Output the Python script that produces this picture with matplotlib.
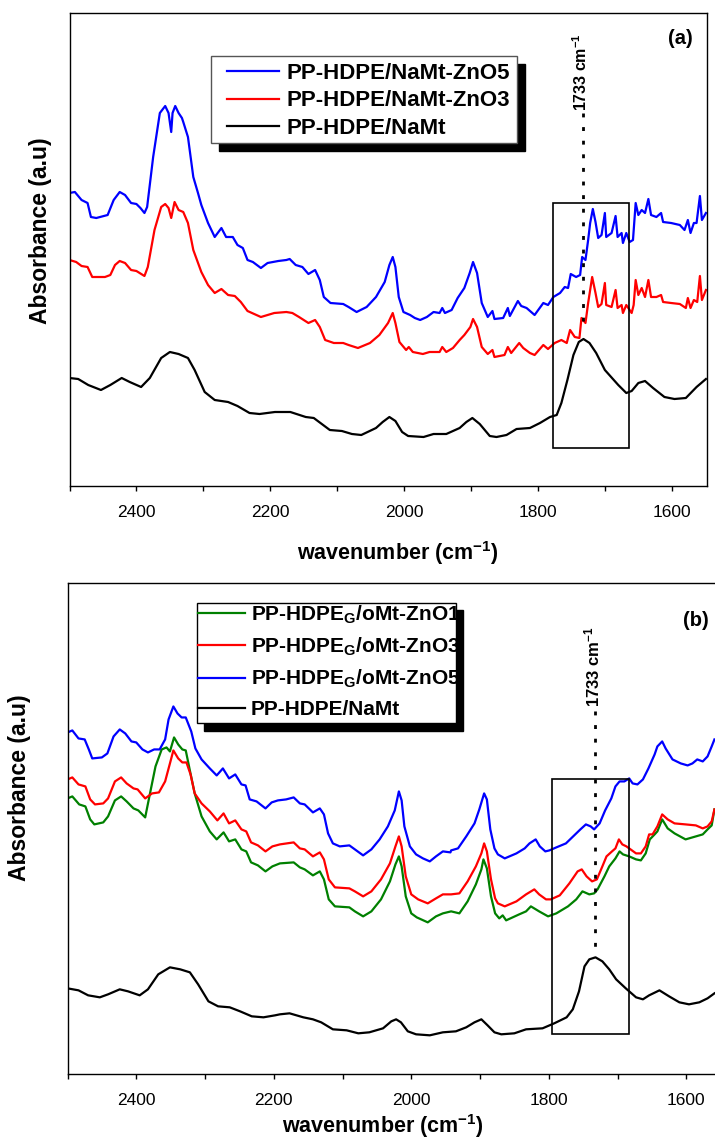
import matplotlib
matplotlib.use('Agg')
import matplotlib.pyplot as plt
import numpy as np
from matplotlib.patches import Rectangle
from matplotlib.ticker import MultipleLocator

plt.rcParams['font.family'] = 'Liberation Sans'
plt.rcParams['mathtext.fontset'] = 'custom'
plt.rcParams['mathtext.rm'] = 'Liberation Sans'
plt.rcParams['mathtext.bf'] = 'Liberation Sans:bold'
plt.rcParams['mathtext.it'] = 'Liberation Sans:italic'

# ---- panel (a): (wavenumber, absorbance a.u.) ----
a_znO5 = [(2500,2.94),(2492,2.95),(2482,2.87),(2473,2.84),(2468,2.70),(2460,2.69),(2443,2.72),(2434,2.87),(2425,2.95),
          (2417,2.92),(2408,2.84),(2400,2.83),(2394,2.79),(2388,2.74),(2384,2.80),(2375,3.30),(2365,3.74),(2357,3.81),
          (2352,3.74),(2348,3.55),(2346,3.74),(2342,3.81),(2337,3.74),(2332,3.69),(2330,3.65),(2323,3.50),(2315,3.10),
          (2308,2.94),(2303,2.82),(2293,2.64),(2283,2.50),(2273,2.59),(2266,2.50),(2256,2.50),(2249,2.42),(2241,2.39),
          (2234,2.27),(2226,2.25),(2214,2.19),(2204,2.24),(2188,2.26),(2176,2.27),(2171,2.28),(2162,2.22),(2152,2.20),
          (2143,2.13),(2133,2.17),(2126,2.07),(2120,1.90),(2110,1.84),(2091,1.83),(2083,1.80),(2071,1.75),(2056,1.80),
          (2042,1.90),(2029,2.05),(2022,2.22),(2017,2.30),(2013,2.20),(2008,1.90),(2001,1.75),(1991,1.72),(1984,1.69),
          (1976,1.67),(1966,1.70),(1956,1.75),(1947,1.74),(1943,1.79),(1939,1.74),(1929,1.77),(1920,1.89),(1910,1.99),
          (1902,2.14),(1897,2.25),(1891,2.14),(1884,1.84),(1875,1.70),(1868,1.76),(1865,1.68),(1852,1.69),(1845,1.79),
          (1842,1.71),(1830,1.86),(1825,1.81),(1817,1.79),(1805,1.72),(1792,1.84),(1785,1.82),(1777,1.90),(1767,1.94),
          (1760,2.00),(1755,1.99),(1751,2.13),(1743,2.10),(1737,2.12),(1734,2.30),(1729,2.27),(1725,2.47),(1722,2.64),
          (1718,2.78),(1714,2.65),(1710,2.49),(1705,2.52),(1700,2.74),(1698,2.50),(1690,2.54),(1684,2.71),(1681,2.50),
          (1675,2.54),(1673,2.44),(1668,2.54),(1663,2.45),(1658,2.47),(1654,2.84),(1650,2.72),(1645,2.77),(1640,2.74),
          (1635,2.88),(1631,2.72),(1623,2.70),(1616,2.74),(1613,2.65),(1601,2.64),(1588,2.62),(1581,2.57),(1576,2.67),
          (1572,2.54),(1567,2.64),(1563,2.64),(1558,2.91),(1555,2.67),(1549,2.74)]
a_znO3 = [(2500,2.27),(2490,2.25),(2482,2.21),(2473,2.20),(2466,2.10),(2447,2.10),(2439,2.12),(2432,2.22),(2425,2.26),
          (2417,2.24),(2408,2.17),(2400,2.16),(2388,2.11),(2383,2.20),(2373,2.57),(2363,2.80),(2357,2.83),(2352,2.79),
          (2348,2.69),(2343,2.85),(2337,2.77),(2330,2.75),(2323,2.64),(2315,2.37),(2303,2.15),(2293,2.02),(2283,1.94),
          (2273,1.98),(2263,1.92),(2253,1.91),(2244,1.85),(2234,1.76),(2214,1.70),(2194,1.74),(2176,1.75),(2167,1.74),
          (2157,1.70),(2143,1.64),(2133,1.67),(2126,1.60),(2118,1.47),(2105,1.44),(2091,1.44),(2083,1.42),(2069,1.39),
          (2051,1.44),(2037,1.52),(2024,1.64),(2017,1.74),(2013,1.64),(2007,1.45),(1997,1.37),(1993,1.40),(1987,1.35),
          (1972,1.33),(1962,1.35),(1947,1.35),(1943,1.40),(1937,1.35),(1927,1.39),(1917,1.47),(1910,1.52),(1901,1.60),
          (1897,1.68),(1891,1.60),(1884,1.40),(1875,1.33),(1868,1.37),(1865,1.30),(1850,1.32),(1845,1.40),(1840,1.34),
          (1828,1.44),(1822,1.39),(1812,1.34),(1805,1.32),(1792,1.42),(1785,1.38),(1775,1.44),(1765,1.47),(1757,1.44),
          (1752,1.57),(1745,1.50),(1738,1.49),(1735,1.69),(1729,1.64),(1725,1.84),(1722,1.97),(1719,2.10),(1714,1.94),
          (1710,1.80),(1705,1.83),(1700,2.04),(1698,1.82),(1690,1.80),(1684,1.97),(1681,1.79),(1675,1.82),(1673,1.74),
          (1668,1.82),(1660,1.74),(1657,1.82),(1654,2.07),(1650,1.92),(1645,1.99),(1640,1.90),(1635,2.07),(1631,1.90),
          (1623,1.90),(1616,1.92),(1613,1.85),(1601,1.84),(1588,1.83),(1579,1.79),(1576,1.89),(1572,1.79),(1567,1.87),
          (1562,1.85),(1558,2.11),(1555,1.87),(1549,1.97)]
a_namt = [(2500,1.09),(2487,1.08),(2472,1.02),(2453,0.97),(2439,1.02),(2422,1.09),(2410,1.05),(2393,1.00),(2380,1.09),
          (2363,1.29),(2350,1.35),(2337,1.33),(2323,1.29),(2313,1.17),(2298,0.95),(2283,0.87),(2263,0.85),(2249,0.81),
          (2231,0.74),(2216,0.73),(2193,0.75),(2170,0.75),(2147,0.70),(2135,0.69),(2123,0.63),(2111,0.57),(2093,0.56),
          (2078,0.53),(2064,0.52),(2042,0.59),(2032,0.65),(2022,0.70),(2013,0.66),(2003,0.55),(1994,0.51),(1971,0.50),
          (1956,0.53),(1937,0.53),(1917,0.59),(1907,0.65),(1898,0.69),(1887,0.63),(1872,0.51),(1862,0.50),(1847,0.52),
          (1832,0.58),(1812,0.59),(1797,0.64),(1782,0.70),(1772,0.72),(1765,0.84),(1756,1.07),(1747,1.32),(1739,1.45),
          (1732,1.48),(1723,1.44),(1713,1.34),(1700,1.17),(1688,1.08),(1680,1.02),(1668,0.94),(1660,0.96),(1650,1.04),
          (1640,1.06),(1628,0.99),(1611,0.90),(1596,0.88),(1579,0.89),(1563,1.00),(1549,1.08)]
a_labels = ['PP-HDPE/NaMt-ZnO5', 'PP-HDPE/NaMt-ZnO3', 'PP-HDPE/NaMt']

# ---- panel (b) ----
b_znO1 = [(2500,2.76),(2493,2.78),(2483,2.70),(2474,2.68),(2467,2.55),(2461,2.50),(2448,2.52),(2441,2.58),(2431,2.74),
          (2422,2.78),(2414,2.73),(2404,2.66),(2397,2.64),(2387,2.57),(2380,2.81),(2372,3.08),(2363,3.25),(2356,3.27),
          (2351,3.23),(2345,3.37),(2339,3.30),(2333,3.25),(2328,3.24),(2322,3.04),(2315,2.81),(2305,2.58),(2293,2.43),
          (2283,2.35),(2273,2.42),(2265,2.33),(2256,2.35),(2247,2.25),(2240,2.23),(2233,2.12),(2223,2.09),(2212,2.03),
          (2202,2.08),(2191,2.11),(2171,2.12),(2162,2.07),(2155,2.05),(2143,1.99),(2133,2.03),(2127,1.95),(2120,1.75),
          (2111,1.68),(2090,1.67),(2082,1.63),(2070,1.58),(2058,1.63),(2044,1.75),(2031,1.93),(2023,2.10),(2018,2.18),
          (2014,2.08),(2008,1.78),(2000,1.61),(1992,1.57),(1976,1.52),(1964,1.58),(1954,1.61),(1942,1.63),(1930,1.61),
          (1918,1.73),(1906,1.90),(1898,2.05),(1895,2.15),(1890,2.06),(1884,1.78),(1878,1.61),(1872,1.56),(1867,1.59),
          (1862,1.54),(1843,1.60),(1833,1.63),(1826,1.68),(1814,1.63),(1801,1.58),(1789,1.61),(1772,1.68),(1760,1.75),
          (1751,1.83),(1741,1.80),(1734,1.81),(1729,1.85),(1719,1.98),(1712,2.08),(1703,2.16),(1697,2.23),(1692,2.20),
          (1683,2.18),(1673,2.15),(1666,2.14),(1659,2.21),(1653,2.35),(1646,2.40),(1642,2.43),(1635,2.55),(1627,2.46),
          (1617,2.41),(1601,2.35),(1586,2.38),(1576,2.40),(1569,2.45),(1563,2.49),(1559,2.65)]
b_znO3 = [(2500,2.95),(2493,2.97),(2484,2.90),(2474,2.88),(2467,2.75),(2460,2.70),(2448,2.71),(2441,2.76),(2431,2.93),
          (2422,2.97),(2414,2.91),(2404,2.86),(2398,2.85),(2387,2.76),(2377,2.81),(2367,2.82),(2358,2.93),(2351,3.11),
          (2346,3.24),(2339,3.16),(2333,3.12),(2327,3.12),(2321,3.00),(2315,2.81),(2305,2.71),(2293,2.63),(2282,2.54),
          (2273,2.61),(2265,2.51),(2256,2.54),(2247,2.45),(2240,2.43),(2233,2.32),(2223,2.29),(2212,2.23),(2202,2.28),
          (2191,2.30),(2171,2.32),(2162,2.26),(2155,2.25),(2143,2.18),(2133,2.22),(2127,2.15),(2120,1.95),(2111,1.87),
          (2090,1.86),(2082,1.83),(2070,1.78),(2058,1.83),(2044,1.95),(2031,2.11),(2023,2.28),(2018,2.38),(2014,2.28),
          (2008,1.98),(2000,1.80),(1990,1.75),(1976,1.71),(1964,1.76),(1954,1.80),(1942,1.80),(1930,1.81),(1918,1.93),
          (1906,2.08),(1898,2.21),(1894,2.31),(1890,2.23),(1884,1.95),(1878,1.76),(1874,1.71),(1864,1.68),(1847,1.73),
          (1833,1.80),(1821,1.85),(1814,1.80),(1804,1.75),(1797,1.75),(1784,1.79),(1770,1.91),(1758,2.03),(1752,2.05),
          (1745,1.98),(1737,1.93),(1730,1.95),(1722,2.08),(1716,2.18),(1708,2.23),(1703,2.26),(1698,2.35),(1693,2.30),
          (1687,2.28),(1679,2.24),(1673,2.21),(1666,2.21),(1659,2.28),(1654,2.40),(1649,2.40),(1642,2.48),(1635,2.60),
          (1627,2.55),(1617,2.51),(1601,2.50),(1586,2.49),(1576,2.46),(1569,2.48),(1563,2.53),(1559,2.65)]
b_znO5 = [(2500,3.42),(2493,3.44),(2484,3.36),(2475,3.35),(2469,3.25),(2464,3.16),(2450,3.17),(2442,3.21),(2433,3.38),
          (2424,3.45),(2416,3.41),(2407,3.33),(2400,3.32),(2391,3.25),(2383,3.22),(2374,3.25),(2366,3.25),(2358,3.35),
          (2353,3.55),(2346,3.68),(2340,3.61),(2334,3.57),(2328,3.57),(2320,3.43),(2314,3.26),(2305,3.15),(2293,3.06),
          (2283,2.99),(2274,3.06),(2265,2.96),(2256,3.00),(2247,2.90),(2241,2.89),(2235,2.75),(2225,2.73),(2212,2.66),
          (2203,2.72),(2194,2.74),(2182,2.75),(2171,2.77),(2162,2.71),(2155,2.70),(2143,2.62),(2133,2.66),(2127,2.60),
          (2121,2.41),(2114,2.31),(2104,2.28),(2090,2.29),(2082,2.25),(2070,2.19),(2058,2.25),(2046,2.35),(2034,2.48),
          (2024,2.64),(2018,2.83),(2014,2.74),(2010,2.48),(2002,2.28),(1993,2.20),(1983,2.16),(1973,2.13),(1964,2.18),
          (1954,2.23),(1943,2.22),(1942,2.24),(1932,2.26),(1920,2.38),(1908,2.51),(1901,2.65),(1894,2.81),(1890,2.75),
          (1885,2.45),(1879,2.26),(1874,2.20),(1864,2.16),(1847,2.21),(1835,2.26),(1828,2.31),(1819,2.35),(1813,2.28),
          (1805,2.23),(1799,2.24),(1789,2.27),(1775,2.31),(1763,2.39),(1754,2.45),(1746,2.50),(1739,2.48),(1734,2.45),
          (1726,2.51),(1718,2.64),(1709,2.76),(1703,2.88),(1697,2.93),(1690,2.93),(1683,2.96),(1678,2.91),(1671,2.90),
          (1663,2.95),(1655,3.06),(1646,3.20),(1642,3.28),(1635,3.33),(1630,3.26),(1620,3.15),(1608,3.11),(1598,3.09),
          (1591,3.11),(1584,3.15),(1576,3.13),(1569,3.18),(1563,3.28),(1559,3.35)]
b_namt = [(2500,0.86),(2484,0.84),(2470,0.79),(2453,0.77),(2441,0.80),(2424,0.85),(2412,0.83),(2395,0.79),(2383,0.85),
          (2368,1.00),(2351,1.07),(2336,1.05),(2322,1.02),(2310,0.90),(2295,0.73),(2281,0.68),(2264,0.67),(2249,0.63),
          (2232,0.58),(2215,0.57),(2198,0.59),(2191,0.60),(2177,0.61),(2157,0.57),(2143,0.55),(2131,0.52),(2114,0.45),
          (2094,0.44),(2077,0.41),(2061,0.42),(2041,0.46),(2029,0.53),(2022,0.55),(2015,0.52),(2005,0.43),(1993,0.40),
          (1973,0.39),(1954,0.42),(1935,0.43),(1920,0.47),(1908,0.52),(1898,0.55),(1889,0.49),(1879,0.42),(1869,0.40),
          (1850,0.41),(1833,0.45),(1809,0.46),(1792,0.51),(1774,0.57),(1765,0.65),(1756,0.83),(1748,1.08),(1741,1.15),
          (1732,1.17),(1722,1.13),(1712,1.05),(1702,0.95),(1688,0.86),(1673,0.77),(1663,0.75),(1654,0.79),(1639,0.84),
          (1625,0.78),(1610,0.72),(1596,0.70),(1581,0.72),(1569,0.76),(1559,0.81)]
b_labels = [r'PP-HDPE$_\mathbf{G}$/oMt-ZnO1', r'PP-HDPE$_\mathbf{G}$/oMt-ZnO3',
            r'PP-HDPE$_\mathbf{G}$/oMt-ZnO5', 'PP-HDPE/NaMt']

# carbonyl band marker and highlight boxes (wavenumber range, absorbance range)
peak_wn = 1733
a_box = (1777, 1664, 0.39, 2.84)
b_box = (1796, 1683, 0.40, 2.95)

fig = plt.figure(figsize=(7.15, 11.38), dpi=100)
W, H = 715.0, 1138.0

def px_axes(l, t, r, b):
    return fig.add_axes([l / W, 1 - b / H, (r - l) / W, (b - t) / H])

def style(ax, ylim):
    ax.set_xlim(2500, 1548)
    ax.set_ylim(*ylim)
    ax.set_yticks([])
    ax.xaxis.set_major_locator(MultipleLocator(200))
    ax.xaxis.set_minor_locator(MultipleLocator(100))
    ax.tick_params(axis='x', which='both', direction='out', length=3.8, width=1.0,
                   labelsize=12.5, pad=10)
    for s in ax.spines.values():
        s.set_linewidth(1.0)

def box(ax, b):
    ax.add_patch(Rectangle((b[0], b[2]), b[1] - b[0], b[3] - b[2], fill=False,
                           edgecolor='k', lw=1.2, zorder=3))

def legend_frame(ax, leg, hx, ty, frame, sdx, sdy, ec):
    # move legend so first handle starts at hx and first label is centred on ty (px from top)
    fig.canvas.draw()
    h0 = leg.get_lines()[0].get_window_extent()
    t0 = leg.get_texts()[0].get_window_extent()
    dx = hx - h0.x0
    dy = (H - ty) - 0.5 * (t0.y0 + t0.y1)
    bb = leg.get_bbox_to_anchor().transformed(ax.transAxes.inverted())
    sx = dx / (ax.bbox.width)
    sy = dy / (ax.bbox.height)
    leg.set_bbox_to_anchor((bb.x0 + sx, bb.y1 + sy), transform=ax.transAxes)
    inv = ax.transAxes.inverted()
    l, t, r, b = frame
    (x0, y0), (x1, y1) = inv.transform([[l, H - b], [r, H - t]])
    ax.add_patch(Rectangle((x0, y0), x1 - x0, y1 - y0, transform=ax.transAxes,
                           facecolor='white', edgecolor=ec, lw=1.0, zorder=4.8, clip_on=False))
    (x0, y0), (x1, y1) = inv.transform([[l + sdx, H - b - sdy], [r + sdx, H - t - sdy]])
    ax.add_patch(Rectangle((x0, y0), x1 - x0, y1 - y0, transform=ax.transAxes,
                           facecolor='k', edgecolor='k', zorder=4.5, clip_on=False))

# ---------------- panel (a) ----------------
ax1 = px_axes(69.5, 12.5, 706.6, 486)
style(ax1, (0.01, 4.745))
for data, c, lab in zip([a_znO5, a_znO3, a_namt], ['#0000FF', '#FF0000', 'k'], a_labels):
    d = np.array(data)
    ax1.plot(d[:, 0], d[:, 1], color=c, lw=1.6, label=lab)
box(ax1, a_box)
ax1.plot([peak_wn, peak_wn], [3.74, 1.57], color='k', lw=2, linestyle=(0, (1.4, 3.5)))
ax1.text(peak_wn + 3, 3.76, r'1733 cm$^{\mathbf{-1}}$', rotation=90, ha='center', va='bottom',
         fontsize=11.5, fontweight='bold')
leg1 = ax1.legend(loc='upper left', bbox_to_anchor=(0.24, 0.9), borderaxespad=0,
                  prop={'weight': 'bold', 'size': 16}, frameon=False, handlelength=2.37,
                  handletextpad=0.3, labelspacing=0.3, borderpad=0)
fig.text(680 / W, 1 - 38 / H, '(a)', ha='center', va='center', fontsize=14.5, fontweight='bold')
fig.text(398 / W, 1 - 553 / H, r'wavenumber (cm$^{\mathbf{-1}}$)', ha='center', va='center',
         fontsize=15.5, fontweight='bold')
fig.text(41 / W, 1 - 231 / H, 'Absorbance (a.u)', rotation=90, ha='center', va='center',
         fontsize=16.5, fontweight='bold')

# ---------------- panel (b) ----------------
ax2 = px_axes(67.5, 582.9, 722, 1074.3)
style(ax2, (0.0, 4.916))
for data, c, lab in zip([b_znO1, b_znO3, b_znO5, b_namt], ['#008000', '#FF0000', '#0000FF', 'k'], b_labels):
    d = np.array(data)
    ax2.plot(d[:, 0], d[:, 1], color=c, lw=1.6, label=lab)
box(ax2, b_box)
ax2.plot([peak_wn, peak_wn], [3.63, 1.22], color='k', lw=2, linestyle=(0, (1.4, 3.5)))
ax2.text(peak_wn + 3, 3.67, r'1733 cm$^{\mathbf{-1}}$', rotation=90, ha='center', va='bottom',
         fontsize=12, fontweight='bold')
leg2 = ax2.legend(loc='upper left', bbox_to_anchor=(0.2, 0.95), borderaxespad=0,
                  prop={'weight': 'bold', 'size': 15}, frameon=False, handlelength=2.26,
                  handletextpad=0.29, labelspacing=0.48, borderpad=0)
fig.text(696 / W, 1 - 620 / H, '(b)', ha='center', va='center', fontsize=14.5, fontweight='bold')
fig.text(383 / W, 1 - 1126 / H, r'wavenumber (cm$^{\mathbf{-1}}$)', ha='center', va='center',
         fontsize=15.5, fontweight='bold')
fig.text(20 / W, 1 - 788 / H, 'Absorbance (a.u)', rotation=90, ha='center', va='center',
         fontsize=16.5, fontweight='bold')

legend_frame(ax1, leg1, 226.7, 73.3, (210.7, 56, 517, 143.3), 8, 7.5, '#555555')
legend_frame(ax2, leg2, 197.5, 614.6, (197, 602.5, 456, 723), 7, 7.5, 'k')

fig.savefig('out.png', dpi=100)
